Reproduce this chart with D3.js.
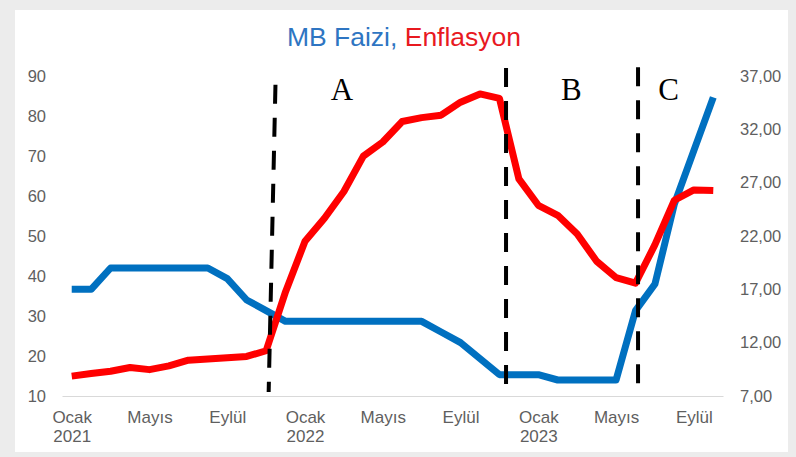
<!DOCTYPE html>
<html>
<head>
<meta charset="utf-8">
<script src="https://cdn.jsdelivr.net/npm/d3@7"></script>
<style>
  html, body { margin: 0; padding: 0; background: #ececec; }
  svg { display: block; }
</style>
</head>
<body>
<svg id="chart" width="796" height="457"></svg>
<script>
// ---- Data ----
const months = [
  "2021-01","2021-02","2021-03","2021-04","2021-05","2021-06","2021-07","2021-08","2021-09","2021-10","2021-11","2021-12",
  "2022-01","2022-02","2022-03","2022-04","2022-05","2022-06","2022-07","2022-08","2022-09","2022-10","2022-11","2022-12",
  "2023-01","2023-02","2023-03","2023-04","2023-05","2023-06","2023-07","2023-08","2023-09","2023-10"
];
// Enflasyon (left axis, %)
const inflation = [
  14.97, 15.61, 16.19, 17.14, 16.59, 17.53, 18.95, 19.25, 19.58, 19.89, 21.31, 36.08,
  48.69, 54.44, 61.14, 69.97, 73.50, 78.62, 79.60, 80.21, 83.45, 85.51, 84.39, 64.27,
  57.68, 55.18, 50.51, 43.68, 39.59, 38.21, 47.83, 58.94, 61.53, 61.36
];
// MB Faizi (right axis, %)
const policyRate = [
  17, 17, 19, 19, 19, 19, 19, 19, 18, 16, 15, 14,
  14, 14, 14, 14, 14, 14, 14, 13, 12, 10.5, 9, 9,
  9, 8.5, 8.5, 8.5, 8.5, 15, 17.5, 25, 30, 35
];
const monthNames = ["Ocak","Şubat","Mart","Nisan","Mayıs","Haziran","Temmuz","Ağustos","Eylül","Ekim","Kasım","Aralık"];
const xTickIdx = [0, 4, 8, 12, 16, 20, 24, 28, 32];
const leftTicks = [10, 20, 30, 40, 50, 60, 70, 80, 90];
const rightTicks = [7, 12, 17, 22, 27, 32, 37];
// Period separators (x in month index, y in left-axis units) and labels
const separators = [
  { x0: 10.48, y0: 87.8, x1: 10.13, y1: 11.0 },
  { x0: 22.34, y0: 92.0, x1: 22.34, y1: 11.0 },
  { x0: 29.13, y0: 92.2, x1: 29.13, y1: 11.0 }
];
const periodLabels = [
  { text: "A", x: 13.9, y: 84 },
  { text: "B", x: 25.7, y: 84 },
  { text: "C", x: 30.7, y: 84 }
];

// ---- Layout ----
const svg = d3.select("#chart");
const W = 796, H = 457;
const plot = { left: 62, right: 723, top: 76, bottom: 396 };

svg.append("rect").attr("x", 0).attr("y", 0).attr("width", W).attr("height", H).attr("fill", "#ececec");
svg.append("rect").attr("x", 15).attr("y", 10).attr("width", 773).attr("height", 442).attr("fill", "#ffffff");

const x = d3.scaleLinear().domain([-0.5, months.length - 0.5]).range([plot.left, plot.right]);
const yL = d3.scaleLinear().domain([10, 90]).range([plot.bottom, plot.top]);
const yR = d3.scaleLinear().domain([7, 37]).range([plot.bottom, plot.top]);

const labelColor = "#5f5f5f";
const font = "'Liberation Sans', Arial, sans-serif";

// Title
const title = svg.append("text")
  .attr("x", 404).attr("y", 46)
  .attr("text-anchor", "middle")
  .attr("font-family", font)
  .attr("font-size", 26.5);
title.append("tspan").attr("fill", "#2e75c2").text("MB Faizi,");
title.append("tspan").attr("fill", "#e8191f").text(" Enflasyon");

// X axis
const xAxis = d3.axisBottom(x).tickValues(xTickIdx).tickSize(0).tickPadding(0).tickFormat(() => "");
const gx = svg.append("g").attr("transform", `translate(0,${plot.bottom})`).call(xAxis);
gx.select(".domain").attr("stroke", "#d9d9d9").attr("stroke-width", 1);
gx.selectAll(".tick text").each(function(i) {
  const t = d3.select(this);
  const [yy, mm] = months[i].split("-");
  const m = +mm - 1;
  t.attr("font-family", font).attr("font-size", 17).attr("fill", labelColor).attr("y", 27).attr("dy", null);
  t.append("tspan").attr("x", 0).text(monthNames[m]);
  if (m === 0) t.append("tspan").attr("x", 0).attr("dy", 19).text(yy);
});

// Left axis
const gl = svg.append("g").attr("transform", `translate(${plot.left},0)`)
  .call(d3.axisLeft(yL).tickValues(leftTicks).tickSize(0).tickPadding(16));
gl.select(".domain").remove();
gl.selectAll(".tick text").attr("font-family", font).attr("font-size", 16.5).attr("fill", labelColor);

// Right axis
const gr = svg.append("g").attr("transform", `translate(${plot.right},0)`)
  .call(d3.axisRight(yR).tickValues(rightTicks).tickSize(0).tickPadding(17)
    .tickFormat(d => d3.format(".2f")(d).replace(".", ",")));
gr.select(".domain").remove();
gr.selectAll(".tick text").attr("font-family", font).attr("font-size", 16.5).attr("fill", labelColor);

// Lines
const idx = d3.range(months.length);
const lineR = d3.line().x(i => x(i)).y(i => yR(policyRate[i]));
const lineL = d3.line().x(i => x(i)).y(i => yL(inflation[i]));

svg.append("path").datum(idx).attr("d", lineR)
  .attr("fill", "none").attr("stroke", "#0070c0").attr("stroke-width", 7)
  .attr("stroke-linejoin", "round").attr("stroke-linecap", "butt");
svg.append("path").datum(idx).attr("d", lineL)
  .attr("fill", "none").attr("stroke", "#ff0000").attr("stroke-width", 7)
  .attr("stroke-linejoin", "round").attr("stroke-linecap", "butt");

// Separators
svg.selectAll("line.sep").data(separators).enter().append("line")
  .attr("class", "sep")
  .attr("x1", d => x(d.x0)).attr("y1", d => yL(d.y0))
  .attr("x2", d => x(d.x1)).attr("y2", d => yL(d.y1))
  .attr("stroke", "#000").attr("stroke-width", 4)
  .attr("stroke-dasharray", "19,14");

// Period labels
svg.selectAll("text.period").data(periodLabels).enter().append("text")
  .attr("class", "period")
  .attr("x", d => x(d.x)).attr("y", d => yL(d.y))
  .attr("text-anchor", "middle")
  .attr("font-family", "'Liberation Serif', 'Times New Roman', serif")
  .attr("font-size", 31).attr("fill", "#000")
  .text(d => d.text);
</script>
</body>
</html>
